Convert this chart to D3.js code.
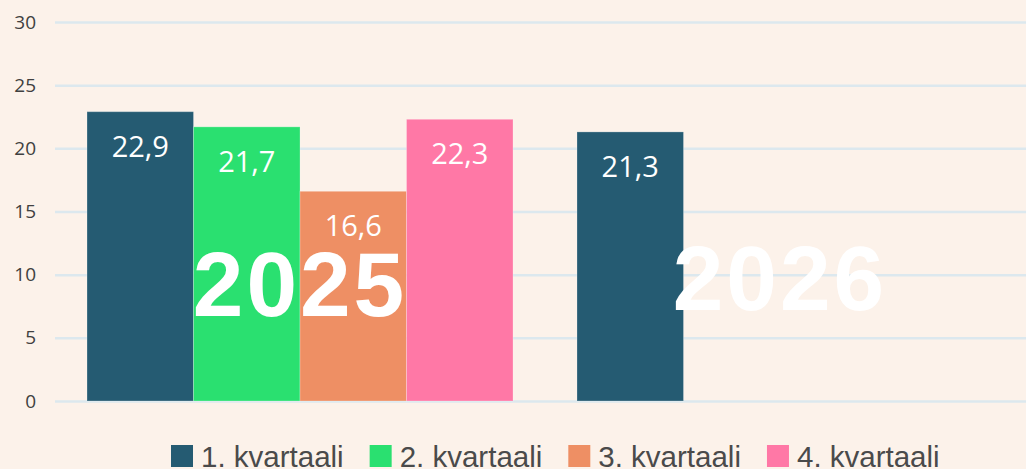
<!DOCTYPE html>
<html>
<head>
<meta charset="utf-8">
<script src="https://cdn.jsdelivr.net/npm/d3@7"></script>
<style>
  body { margin: 0; background: #fcf2ea; }
  svg { display: block; }
</style>
</head>
<body>
<script>
// data
var years = ['2025', '2026'];
var quarters = ['1. kvartaali', '2. kvartaali', '3. kvartaali', '4. kvartaali'];
var values2025 = [22.9, 21.7, 16.6, 22.3];
var values2026 = [21.3];
var yTicks = [0, 5, 10, 15, 20, 25, 30];
var colors = ['#255b72', '#2ae070', '#ee8f64', '#ff78a6'];

var rows = [];
values2025.forEach(function(v, i) { rows.push({year: '2025', q: quarters[i], value: v}); });
values2026.forEach(function(v, i) { rows.push({year: '2026', q: quarters[i], value: v}); });

var w = 1026;
var h = 469;

var svg = d3.select('body')
            .append('svg')
            .attr('width', w)
            .attr('height', h);

svg.append('rect')
   .attr('width', w)
   .attr('height', h)
   .attr('fill', '#fcf2ea');

var x0 = d3.scaleBand()
           .domain(years)
           .range([56, 1034])
           .paddingInner(0.1306)
           .paddingOuter(0.0633);
var x1 = d3.scaleBand()
           .domain(quarters)
           .range([0, x0.bandwidth()]);
var yScale = d3.scaleLinear()
               .domain([0, 30])
               .range([401, 22]);
var color = d3.scaleOrdinal()
              .domain(quarters)
              .range(colors);

// gridlines + y labels
var yAxis = svg.append('g')
   .attr('transform', 'translate(55,0)')
   .call(d3.axisRight(yScale).tickValues(yTicks).tickSize(w - 55).tickFormat(d3.format('d')));
yAxis.select('.domain').remove();
yAxis.selectAll('.tick line')
     .attr('stroke', '#dce8ee')
     .attr('stroke-width', 2.5);
yAxis.selectAll('.tick text')
     .attr('x', -19)
     .attr('text-anchor', 'end')
     .attr('fill', '#404040')
     .style('font-family', '"Open Sans", sans-serif')
     .style('font-size', '19px');

// bars
svg.selectAll('rect.bar')
   .data(rows)
   .enter()
   .append('rect')
   .attr('class', 'bar')
   .attr('x', function(d) { return x0(d.year) + x1(d.q); })
   .attr('y', function(d) { return yScale(d.value); })
   .attr('width', x1.bandwidth())
   .attr('height', function(d) { return yScale(0) - yScale(d.value); })
   .attr('fill', function(d) { return color(d.q); })
   .attr('stroke', 'rgba(255,255,255,0.25)')
   .attr('stroke-width', 1);

// year labels (2026 sits a little left and higher in the original)
var yearNudge = {'2025': [0, 0], '2026': [-10, -6]};
svg.selectAll('text.year')
   .data(years)
   .enter()
   .append('text')
   .attr('class', 'year')
   .attr('x', function(d) { return x0(d) + x0.bandwidth() / 2 + yearNudge[d][0]; })
   .attr('y', function(d) { return yScale(6.7) + yearNudge[d][1]; })
   .attr('text-anchor', 'middle')
   .attr('fill', '#ffffff')
   .style('font-family', '"Liberation Sans", Arial, sans-serif')
   .style('font-weight', 'bold')
   .style('font-size', '91px')
   .style('letter-spacing', '3px')
   .text(function(d) { return d; });

// value labels
svg.selectAll('text.val')
   .data(rows)
   .enter()
   .append('text')
   .attr('class', 'val')
   .attr('x', function(d) { return x0(d.year) + x1(d.q) + x1.bandwidth() / 2; })
   .attr('y', function(d) { return yScale(d.value) + 45; })
   .attr('text-anchor', 'middle')
   .attr('fill', '#ffffff')
   .style('font-family', '"Open Sans", sans-serif')
   .style('font-size', '29px')
   .text(function(d) { return d3.format('.1f')(d.value).replace('.', ','); });

// legend
var legend = svg.append('g').attr('transform', 'translate(171,445)');
var lx = 0;
quarters.forEach(function(q) {
    var g = legend.append('g').attr('transform', 'translate(' + lx + ',0)');
    g.append('rect')
     .attr('width', 22)
     .attr('height', 22)
     .attr('fill', color(q));
    var t = g.append('text')
     .attr('x', 30)
     .attr('y', 22)
     .attr('fill', '#4a4a4a')
     .style('font-family', '"Liberation Sans", Arial, sans-serif')
     .style('font-size', '29.5px')
     .text(q);
    lx += 30 + t.node().getComputedTextLength() + 26;
});
</script>
</body>
</html>
